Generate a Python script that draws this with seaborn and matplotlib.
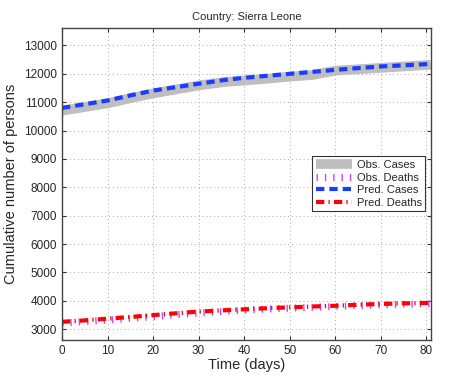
import numpy as np
import matplotlib
matplotlib.use("Agg")
import matplotlib.pyplot as plt
import seaborn as sns

# values
days = [0, 5, 10, 15, 20, 25, 30, 36, 40, 45, 50, 55, 60, 65, 70, 75, 81]
obs_cases = [10700, 10830, 10960, 11140, 11310, 11450, 11590, 11720, 11760, 11830, 11900, 11960, 12110, 12160, 12210, 12260, 12320]
pred_cases = [10800, 10930, 11060, 11240, 11410, 11530, 11650, 11790, 11860, 11930, 12000, 12070, 12140, 12200, 12260, 12300, 12350]
obs_deaths = [3220, 3270, 3320, 3380, 3440, 3510, 3570, 3630, 3670, 3710, 3740, 3770, 3800, 3830, 3860, 3880, 3900]
pred_deaths = [3260, 3310, 3370, 3430, 3495, 3560, 3620, 3670, 3700, 3740, 3770, 3800, 3825, 3860, 3890, 3910, 3930]

sns.set_style("white")
plt.rcParams['font.family'] = ['Liberation Sans', 'DejaVu Sans']

fig, ax = plt.subplots(figsize=(4.77, 3.82), dpi=100)
fig.subplots_adjust(left=0.13, right=0.903, top=0.927, bottom=0.11)

sns.lineplot(x=days, y=obs_cases, ax=ax, color='#bebebe', lw=7, label='Obs. Cases',
             solid_capstyle='butt')
sns.lineplot(x=days, y=obs_deaths, ax=ax, color='#cc44ff', lw=5, label='Obs. Deaths')
ax.lines[-1].set_dashes([0.2, 1.0])
sns.lineplot(x=days, y=pred_cases, ax=ax, color='#1a3cff', lw=3, label='Pred. Cases')
ax.lines[-1].set_dashes([2.0, 1.2])
sns.lineplot(x=days, y=pred_deaths, ax=ax, color='#ff0000', lw=3, label='Pred. Deaths')
ax.lines[-1].set_dashes([2.0, 1.0, 0.3, 1.0])

ax.set_xlim(0, 81)
ax.set_ylim(2620, 13620)
ax.set_xticks(range(0, 81, 10))
ax.set_yticks(range(3000, 13001, 1000))
ax.grid(True, linestyle=(0, (1, 3)), color='#aaaaaa', lw=0.7)
ax.tick_params(direction='in', labelsize=8.5, length=3, left=True, bottom=True, right=True, top=True,
               color='#333333')
for s in ax.spines.values():
    s.set_color('#444444')
    s.set_linewidth(1.0)

ax.set_title('Country: Sierra Leone', fontsize=8)
ax.set_xlabel('Time (days)', fontsize=10.5, labelpad=1)
ax.set_ylabel('Cumulative number of persons', fontsize=10.5)

leg = ax.legend(loc='center right', bbox_to_anchor=(0.985, 0.5), fontsize=8,
                frameon=True, fancybox=False, edgecolor='black',
                handlelength=3.3, borderpad=0.3, labelspacing=0.25, handletextpad=0.4,
                borderaxespad=0)
leg.get_frame().set_linewidth(0.8)

fig.savefig('out.png', dpi=100)
